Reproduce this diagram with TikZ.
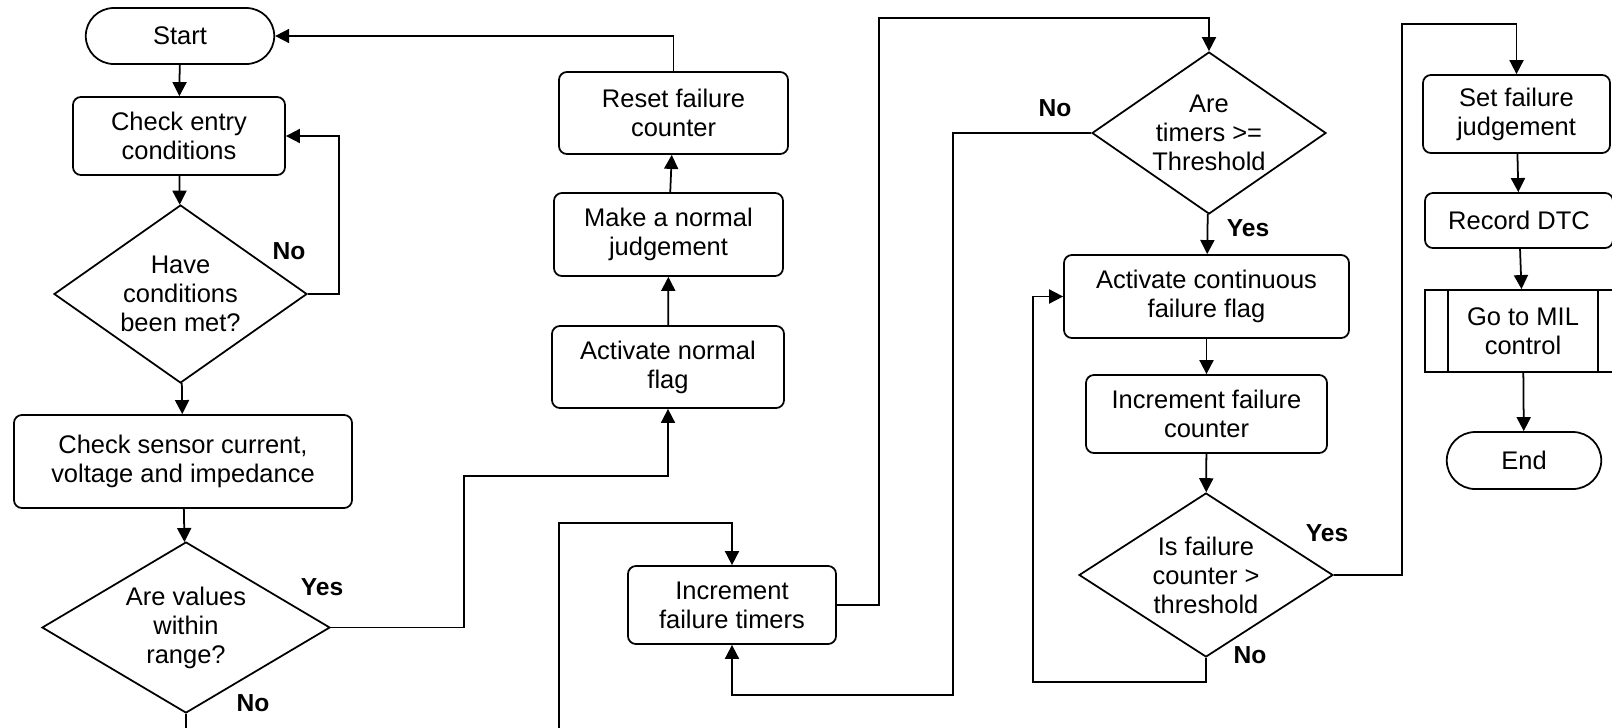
\documentclass[tikz,border=0pt]{standalone}
\usepackage{fontspec}
\setmainfont{Liberation Sans}
\usetikzlibrary{shapes.geometric,shapes.misc,arrows.meta}
\begin{document}
\begin{tikzpicture}[line width=1pt]

      \tikzset{box/.style={draw, rectangle, rounded corners=4.5pt, align=center, inner sep=1pt},
               term/.style={draw, rounded rectangle, align=center, inner sep=1pt},
               dec/.style={draw, diamond, inner sep=0pt},
               arr/.style={-{Triangle[length=8pt, width=8pt]}},
               lbl/.style={font=\bfseries\fontsize{14}{16}\selectfont},
               every node/.style={font=\fontsize{14.5}{16.5}\selectfont}}
      \useasboundingbox (0,0) rectangle (32.24,-14.54);
      \clip (0,0) rectangle (32.24,-14.54);
%% Shapes
      	\node[term, minimum width=3.84cm, minimum height=1.12cm] (start) at (3.60,-0.72) {Start};
      	\node[box, minimum width=4.24cm, minimum height=1.56cm] (entry) at (3.58,-2.72) {Check entry\\conditions};
      	\node[dec, minimum width=5.06cm, minimum height=3.56cm, label={[align=center]center:{Have\\conditions\\been met?}}] (met) at (3.61,-5.88) {};
      	\node[box, minimum width=6.76cm, minimum height=1.86cm] (sensor) at (3.66,-9.23) {Check sensor current,\\voltage and impedance};
      	\node[dec, minimum width=5.76cm, minimum height=3.42cm, label={[align=center]center:{Are values\\within\\range?}}] (range) at (3.72,-12.55) {};
      	\node[box, minimum width=4.64cm, minimum height=1.64cm] (actnorm) at (13.36,-7.34) {Activate normal\\flag};
      	\node[box, minimum width=4.58cm, minimum height=1.66cm] (judge) at (13.37,-4.69) {Make a normal\\judgement};
      	\node[box, minimum width=4.58cm, minimum height=1.64cm] (reset) at (13.47,-2.26) {Reset failure\\counter};
      	\node[box, minimum width=4.16cm, minimum height=1.56cm] (timers) at (14.64,-12.10) {Increment\\failure timers};
      	\node[dec, minimum width=4.68cm, minimum height=3.24cm, label={[align=center]center:{Are\\timers >=\\Threshold}}] (thr) at (24.18,-2.66) {};
      	\node[box, minimum width=5.70cm, minimum height=1.66cm] (contflag) at (24.13,-5.93) {Activate continuous\\failure flag};
      	\node[box, minimum width=4.82cm, minimum height=1.56cm] (counter) at (24.13,-8.28) {Increment failure\\counter};
      	\node[dec, minimum width=5.08cm, minimum height=3.28cm, label={[align=center]center:{Is failure\\counter >\\threshold}}] (cnt) at (24.12,-11.50) {};
      	\node[box, minimum width=3.74cm, minimum height=1.56cm] (setfail) at (30.33,-2.28) {Set failure\\judgement};
      	\node[box, minimum width=3.76cm, minimum height=1.10cm] (dtc) at (30.38,-4.41) {Record DTC};
      	\node[draw, minimum width=3.92cm, minimum height=1.64cm, align=center] (mil) at (30.46,-6.62) {Go to MIL\\control};
      	\node[term, minimum width=3.16cm, minimum height=1.14cm] (end) at (30.48,-9.21) {End};
      	\draw ([xshift=0.48cm]mil.north west) -- ([xshift=0.48cm]mil.south west);
      	\draw ([xshift=-0.48cm]mil.north east) -- ([xshift=-0.48cm]mil.south east);
%% Yes / No
      	\node[lbl] (no1) at (5.78,-5.02) {No};
      	\node[lbl] (yes1) at (6.44,-11.74) {Yes};
      	\node[lbl] (no2) at (5.06,-14.06) {No};
      	\node[lbl] (no3) at (21.10,-2.16) {No};
      	\node[lbl] (yes2) at (24.96,-4.56) {Yes};
      	\node[lbl] (yes3) at (26.54,-10.66) {Yes};
      	\node[lbl] (no4) at (25.00,-13.10) {No};
      	\coordinate (out1) at (3.72,-14.8);
      	\coordinate (in1) at (11.18,-14.8);
%Edges
		\path[arr] (start) edge (entry)
		           (entry) edge (met)
		           (met) edge (sensor)
		           (sensor) edge (range)
		           (actnorm) edge (judge)
		           (judge) edge (reset)
		           (thr) edge (contflag)
		           (contflag) edge (counter)
		           (counter) edge (cnt)
		           (setfail) edge (dtc)
		           (dtc) edge (mil)
		           (mil) edge (end);
		\draw (range.south) -- (out1);
		\draw[arr] (met.east) -- ++(0.62,0) |- (entry.east);
		\draw[arr] (range.east) -| (9.28,-9.52) -| (actnorm.south);
		\draw[arr] (reset.north) |- (start.east);
		\draw[arr] (in1) |- ([yshift=0.84cm]timers.north) -- (timers.north);
		\draw[arr] (timers.east) -| (17.58,-0.36) -| (thr.north);
		\draw[arr] (thr.west) -| (19.06,-13.90) -| (timers.south);
		\draw[arr] (cnt.south) |- (20.66,-13.64) |- (contflag.west);
		\draw[arr] (cnt.east) -| (28.04,-0.48) -| (setfail.north);

	\end{tikzpicture}
\end{document}
